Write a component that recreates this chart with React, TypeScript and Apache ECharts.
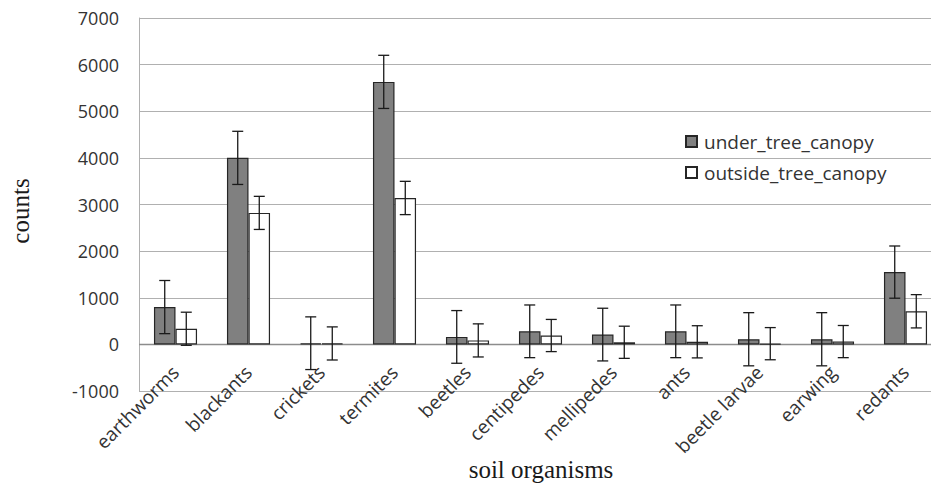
import React, { useEffect, useRef } from "react";
import * as echarts from "echarts";

const categories = [
  "earthworms", "blackants", "crickets", "termites", "beetles", "centipedes",
  "mellipedes", "ants", "beetle larvae", "earwing", "redants",
];
const underMean = [800, 4000, 25, 5630, 160, 280, 210, 280, 110, 110, 1550];
const underErr = [570, 570, 565, 570, 565, 565, 565, 565, 570, 570, 560];
const outsideMean = [335, 2820, 20, 3140, 85, 190, 45, 55, 15, 60, 710];
const outsideErr = [355, 355, 355, 357, 355, 345, 345, 345, 345, 345, 357];
const yTicks = { min: -1000, max: 7000, interval: 1000 };

const BAR_GAP = 0.41;

function errorSeries(name: string, means: number[], errs: number[], side: number) {
  return {
    type: "custom",
    name: name + "_err",
    z: 10,
    silent: true,
    encode: { x: 0, y: 1 },
    data: means.map((m, i) => [i, m, errs[i]]),
    renderItem: (params: any, api: any) => {
      const i = api.value(0);
      const m = api.value(1);
      const e = api.value(2);
      const band = api.size([1, 0])[0];
      const barW = (band * (1 - BAR_GAP)) / 2;
      const c = api.coord([i, m]);
      const x = c[0] + side * barW / 2;
      const yTop = api.coord([i, m + e])[1];
      const yBot = api.coord([i, m - e])[1];
      const cap = 5.5;
      const style = { stroke: "#1a1a1a", lineWidth: 1.3 };
      return {
        type: "group",
        children: [
          { type: "line", shape: { x1: x, y1: yTop, x2: x, y2: yBot }, style },
          { type: "line", shape: { x1: x - cap, y1: yTop, x2: x + cap, y2: yTop }, style },
          { type: "line", shape: { x1: x - cap, y1: yBot, x2: x + cap, y2: yBot }, style },
        ],
      };
    },
  };
}

export default function App() {
  const ref = useRef<HTMLDivElement>(null);
  useEffect(() => {
    document.body.style.margin = "0";
    const chart = echarts.init(ref.current!, undefined, { renderer: "svg" });
    chart.setOption({
      animation: false,
      backgroundColor: "#ffffff",
      textStyle: { fontFamily: "Open Sans" },
      grid: {
        left: 139,
        right: -11,
        top: 18,
        bottom: 95,
        containLabel: false,
        outerBoundsMode: "none",
      },
      legend: {
        orient: "vertical",
        left: 680,
        top: 127,
        itemWidth: 11,
        itemHeight: 11,
        itemGap: 12,
        icon: "rect",
        data: ["under_tree_canopy", "outside_tree_canopy"],
        textStyle: { fontFamily: "Open Sans", fontSize: 19, color: "#333", padding: [0, 0, 0, 2] },
      },
      xAxis: {
        type: "category",
        data: categories,
        axisLine: { show: false, onZero: false },
        axisTick: { show: false },
        axisLabel: {
          rotate: 45,
          interval: 0,
          margin: -22,
          fontFamily: "Open Sans",
          fontSize: 19,
          color: "#333",
        },
      },
      yAxis: {
        type: "value",
        min: yTicks.min,
        max: yTicks.max,
        interval: yTicks.interval,
        axisLine: { show: true, lineStyle: { color: "#b0b0b0" } },
        axisTick: { show: false },
        splitLine: { lineStyle: { color: "#b0b0b0", width: 1.2 } },
        axisLabel: {
          margin: 20,
          fontFamily: "Open Sans",
          fontSize: 18,
          color: "#333",
          formatter: (v: number) => String(v),
        },
      },
      graphic: [
        {
          type: "text",
          x: 20,
          y: 211,
          rotation: Math.PI / 2,
          style: {
            text: "counts",
            font: "25px 'Liberation Serif', 'Times New Roman', serif",
            fill: "#1a1a1a",
            align: "center",
            verticalAlign: "middle",
          },
        },
        {
          type: "text",
          x: 541,
          y: 469,
          style: {
            text: "soil organisms",
            font: "25px 'Liberation Serif', 'Times New Roman', serif",
            fill: "#1a1a1a",
            align: "center",
            verticalAlign: "middle",
          },
        },
      ],
      series: [
        {
          type: "bar",
          name: "under_tree_canopy",
          data: underMean,
          barGap: "0%",
          barCategoryGap: BAR_GAP * 100 + "%",
          itemStyle: { color: "#808080", borderColor: "#262626", borderWidth: 1.2 },
          markLine: {
            silent: true,
            symbol: "none",
            z: 1,
            label: { show: false },
            lineStyle: { color: "#8c8c8c", width: 1.3, type: "solid" },
            data: [{ yAxis: 0 }],
          },
        },
        {
          type: "bar",
          name: "outside_tree_canopy",
          data: outsideMean,
          barGap: "0%",
          barCategoryGap: BAR_GAP * 100 + "%",
          itemStyle: { color: "#ffffff", borderColor: "#262626", borderWidth: 1.2 },
        },
        errorSeries("under_tree_canopy", underMean, underErr, -1),
        errorSeries("outside_tree_canopy", outsideMean, outsideErr, 1),
      ],
    });
    return () => chart.dispose();
  }, []);
  return <div ref={ref} style={{ width: 931, height: 486 }} />;
}
